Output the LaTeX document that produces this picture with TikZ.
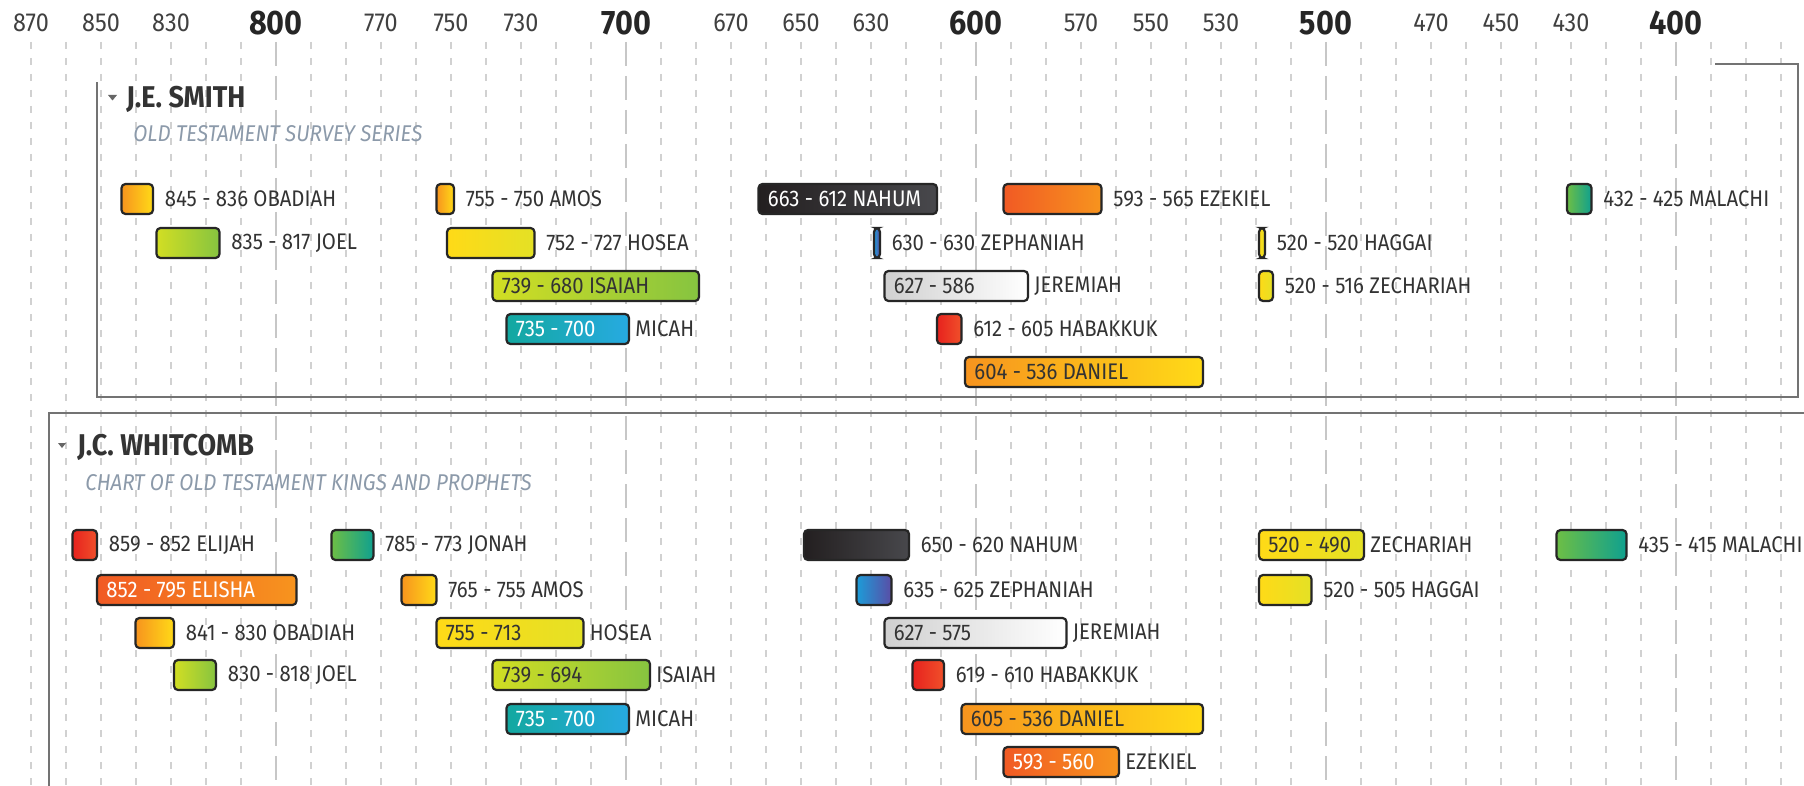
\documentclass[tikz,border=0pt]{standalone}
\usepackage{fontspec}
\setmainfont{Fira Sans}[FakeStretch=0.9]

\definecolor{orangeA}{HTML}{F7941E}
\definecolor{yellowA}{HTML}{FFDA17}
\definecolor{yellowB}{HTML}{E4E125}
\definecolor{limeA}{HTML}{D2DE23}
\definecolor{greenA}{HTML}{86C440}
\definecolor{greenB}{HTML}{6DBE45}
\definecolor{tealA}{HTML}{0FA08F}
\definecolor{tealB}{HTML}{13A8A0}
\definecolor{blueA}{HTML}{27AAE1}
\definecolor{blueB}{HTML}{1C9CD8}
\definecolor{purpleA}{HTML}{5A4DA6}
\definecolor{redA}{HTML}{E7221E}
\definecolor{redB}{HTML}{F0502A}
\definecolor{flameA}{HTML}{F15A24}
\definecolor{coalA}{HTML}{231F20}
\definecolor{coalB}{HTML}{48484C}
\definecolor{greyA}{HTML}{D0D0D0}
\definecolor{subgrey}{HTML}{8C9AAA}

% bar for one prophet: [inside text colour]{name}{from}{to}{row}{colours}{inside text}{label}
\newcommand{\prophet}[8][black!80]{%
  \pgfmathsetmacro\px{3079-3.5*#3}%
  \pgfmathsetmacro\pw{max(1.75*(#3-#4),3)}%
  \def\intxt{#7}%
  \ifx\intxt\empty\def\pgap{5.75pt}\else\def\pgap{3pt}\fi
  \node[pbar, #6, minimum width=\pw pt] (#2) at (\px,#5) {};
  \node[anchor=west, text=#1, xshift=4.5pt] (#2-in) at (#2.west) {#7};
  \node[anchor=west, xshift=\pgap] (#2-lab) at (#2.east) {#8};
}

\begin{document}
\begin{tikzpicture}[x=0.5pt, y=-0.5pt,
    every node/.style={font=\fontsize{11.3}{13}\selectfont, text=black!80, inner sep=0pt},
    pbar/.style={draw=black!85, line width=1.1pt, rounded corners=2pt,
      minimum height=15pt, inner sep=0pt, outer sep=0pt, anchor=west},
    decadegrid/.style={draw=black!18, line width=0.6pt, dash pattern=on 3.5pt off 4.5pt},
    centurygrid/.style={draw=black!22, line width=0.9pt, dash pattern=on 12pt off 5pt},
    decadelab/.style={font=\fontsize{13}{15}\selectfont, text=black!75},
    centurylab/.style={font=\fontsize{17}{19}\selectfont\bfseries, text=black!85},
    frame/.style={draw=black!55, line width=1.2pt},
    author/.style={font=\fontsize{15}{17}\selectfont\bfseries, text=black!80, anchor=west},
    series/.style={font=\fontsize{11.4}{13}\selectfont\itshape, text=subgrey, anchor=west},
    orangeyellow/.style={left color=orangeA, right color=yellowA},
    yellowish/.style={left color=yellowA, right color=yellowB},
    limegreen/.style={left color=limeA, right color=greenA},
    greenteal/.style={left color=greenB, right color=tealA},
    tealblue/.style={left color=tealB, right color=blueA},
    redred/.style={left color=redA, right color=redB},
    redorange/.style={left color=flameA, right color=orangeA},
    charcoal/.style={left color=coalA, right color=coalB},
    bluepurple/.style={left color=blueB, right color=purpleA},
    greywhite/.style={left color=greyA, right color=white}]

    \fill[white] (0,0) rectangle (1804,786);
    \useasboundingbox (0,0) rectangle (1804,786);

    % time grid and year scale
    \foreach \yr in {370,380,...,870}{
      \pgfmathtruncatemacro\cent{mod(\yr,100)}
      \ifnum\cent=0
        \draw[centurygrid] ({3076-3.5*\yr},42) -- ({3076-3.5*\yr},786);
      \else
        \draw[decadegrid] ({3076-3.5*\yr},42) -- ({3076-3.5*\yr},786);
      \fi
    }
    \foreach \yr in {870,850,830,770,750,730,670,650,630,570,550,530,470,450,430}
      \node[decadelab] (lab\yr) at ({3076-3.5*\yr},23) {\yr};
    \foreach \yr in {800,700,...,400}
      \node[centurylab] (lab\yr) at ({3076-3.5*\yr},23) {\yr};

    % J.E. Smith
    \draw[frame] (1715,64) -- (1798,64) -- (1798,397) -- (97,397) -- (97,82);
    \fill[black!60] (108,95) -- (117,95) -- (112.5,100.5) -- cycle;
    \node[author] (smith) at (126,99) {J.E. SMITH};
    \node[series] (smithsub) at (133,134) {OLD TESTAMENT SURVEY SERIES};

    \prophet{smithObadiah}{845}{836}{199}{orangeyellow}{}{845 - 836 OBADIAH}
    \prophet{smithAmos}{755}{750}{199}{orangeyellow}{}{755 - 750 AMOS}
    \prophet[white]{smithNahum}{663}{612}{199}{charcoal}{663 - 612 NAHUM}{}
    \prophet{smithEzekiel}{593}{565}{199}{redorange}{}{593 - 565 EZEKIEL}
    \prophet{smithMalachi}{432}{425}{199}{greenteal}{}{432 - 425 MALACHI}
    \prophet{smithJoel}{835}{817}{243}{limegreen}{}{835 - 817 JOEL}
    \prophet{smithHosea}{752}{727}{243}{yellowish}{}{752 - 727 HOSEA}
    \prophet{smithZephaniah}{630}{630}{243}{bluepurple}{}{630 - 630 ZEPHANIAH}
    \prophet{smithHaggai}{520}{520}{243}{yellowish}{}{520 - 520 HAGGAI}
    \prophet{smithIsaiah}{739}{680}{286}{limegreen}{739 - 680 ISAIAH}{}
    \prophet{smithJeremiah}{627}{586}{286}{greywhite}{627 - 586}{JEREMIAH}
    \prophet{smithZechariah}{520}{516}{286}{yellowish}{}{520 - 516 ZECHARIAH}
    \prophet[white]{smithMicah}{735}{700}{329}{tealblue}{735 - 700}{MICAH}
    \prophet{smithHabakkuk}{612}{605}{329}{redred}{}{612 - 605 HABAKKUK}
    \prophet{smithDaniel}{604}{536}{372}{orangeyellow}{604 - 536 DANIEL}{}

    % J.C. Whitcomb
    \draw[frame] (49,800) -- (49,413) -- (1810,413);
    \fill[black!60] (58,443) -- (66,443) -- (62,448) -- cycle;
    \node[author] (whitcomb) at (77,447) {J.C. WHITCOMB};
    \node[series] (whitcombsub) at (85,483) {CHART OF OLD TESTAMENT KINGS AND PROPHETS};

    \prophet{whitElijah}{859}{852}{545}{redred}{}{859 - 852 ELIJAH}
    \prophet{whitJonah}{785}{773}{545}{greenteal}{}{785 - 773 JONAH}
    \prophet{whitNahum}{650}{620}{545}{charcoal}{}{650 - 620 NAHUM}
    \prophet{whitZechariah}{520}{490}{545}{yellowish}{520 - 490}{ZECHARIAH}
    \prophet{whitMalachi}{435}{415}{545}{greenteal}{}{435 - 415 MALACHI}
    \prophet[white]{whitElisha}{852}{795}{590}{redorange}{852 - 795 ELISHA}{}
    \prophet{whitAmos}{765}{755}{590}{orangeyellow}{}{765 - 755 AMOS}
    \prophet{whitZephaniah}{635}{625}{590}{bluepurple}{}{635 - 625 ZEPHANIAH}
    \prophet{whitHaggai}{520}{505}{590}{yellowish}{}{520 - 505 HAGGAI}
    \prophet{whitObadiah}{841}{830}{633}{orangeyellow}{}{841 - 830 OBADIAH}
    \prophet{whitHosea}{755}{713}{633}{yellowish}{755 - 713}{HOSEA}
    \prophet{whitJeremiah}{627}{575}{633}{greywhite}{627 - 575}{JEREMIAH}
    \prophet{whitJoel}{830}{818}{675}{limegreen}{}{830 - 818 JOEL}
    \prophet{whitIsaiah}{739}{694}{675}{limegreen}{739 - 694}{ISAIAH}
    \prophet{whitHabakkuk}{619}{610}{675}{redred}{}{619 - 610 HABAKKUK}
    \prophet[white]{whitMicah}{735}{700}{719}{tealblue}{735 - 700}{MICAH}
    \prophet{whitDaniel}{605}{536}{719}{orangeyellow}{605 - 536 DANIEL}{}
    \prophet[white]{whitEzekiel}{593}{560}{762}{redorange}{593 - 560}{EZEKIEL}
\end{tikzpicture}
\end{document}
